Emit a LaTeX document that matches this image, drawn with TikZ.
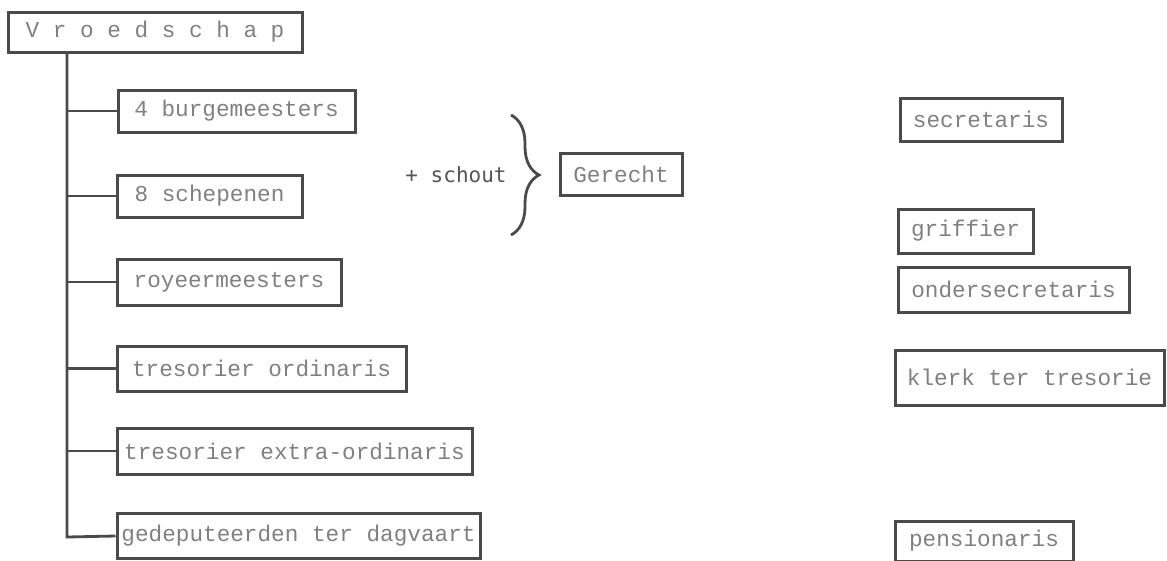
\documentclass[tikz,border=0pt]{standalone}
\usepackage{fontspec}
\setmonofont{Liberation Mono}
\newfontfamily\schoutfont{DejaVu Sans Mono}
\usetikzlibrary{decorations.pathreplacing}
\definecolor{inkline}{HTML}{4A4A4A}
\definecolor{inktext}{HTML}{808080}
\definecolor{inkdark}{HTML}{555555}
\tikzset{
  bx/.style={draw=inkline, line width=3pt, text=inktext, inner sep=0pt,
    font=\ttfamily\fontsize{22.7}{24}\selectfont, anchor=center},
  ln/.style={draw=inkline, line width=2.8pt},
}
\begin{document}
\begin{tikzpicture}[x=1pt,y=-1pt]
\useasboundingbox[fill=white] (0,0) rectangle (1167,560);
% left column
\node[bx, minimum width=294pt, minimum height=40pt] (v) at (155,32) {V r o e d s c h a p};
\node[bx, minimum width=237pt, minimum height=42pt] (b1) at (236.5,111) {4 burgemeesters};
\node[bx, minimum width=185pt, minimum height=42pt] (b2) at (209.5,196) {8 schepenen};
\node[bx, minimum width=224pt, minimum height=46pt] (b3) at (229,282) {royeermeesters};
\node[bx, minimum width=289pt, minimum height=45pt] (b4) at (261.5,368.5) {tresorier ordinaris};
\node[bx, minimum width=355pt, minimum height=46pt] (b5) at (294.5,451) {tresorier extra-ordinaris};
\node[bx, minimum width=363pt, minimum height=45pt] (b6) at (298.5,536) {gedeputeerden ter dagvaart};
% trunk
\coordinate (trunk) at (67,537);
\draw[ln] (v.south -| trunk) -- (trunk) -- (b6.west);
\foreach \b in {b1,b2,b3,b4,b5}{
  \draw[ln] (\b.west -| trunk) -- (\b.west);
}
% middle
\node[text=inkdark, font=\schoutfont\fontsize{21}{24}\selectfont, inner sep=0pt] (schout) at (456,175) {+ schout};
\draw[ln, decorate, decoration={brace, amplitude=28pt, aspect=0.5}] (511,115) -- (511,235);
\node[bx, minimum width=122pt, minimum height=42pt] (ger) at (621,174) {Gerecht};
% right column
\node[bx, minimum width=162pt, minimum height=43pt] (sec) at (981,119.5) {secretaris};
\node[bx, minimum width=135pt, minimum height=44pt] (gri) at (965.5,231) {griffier};
\node[bx, minimum width=231pt, minimum height=45pt] (ond) at (1013.5,289.5) {ondersecretaris};
\node[bx, minimum width=269pt, minimum height=55pt] (kle) at (1029.5,377.5) {klerk ter tresorie};
\node[bx, minimum width=178pt, minimum height=40pt] (pen) at (984,541) {pensionaris};
\end{tikzpicture}
\end{document}
